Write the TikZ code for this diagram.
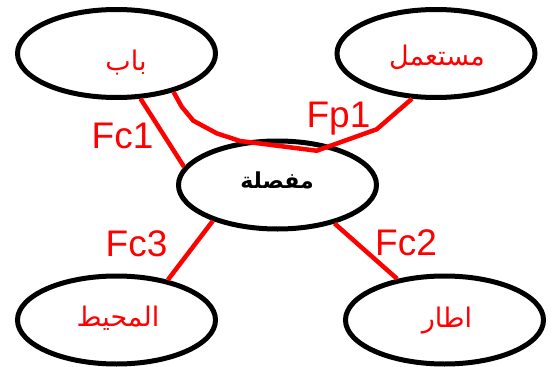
\documentclass[tikz,border=0pt]{standalone}
\usepackage{fontspec}
\setmainfont{Liberation Sans}
\newfontfamily\arabicfont[Script=Arabic]{DejaVu Sans}
\TeXXeTstate=1
\usetikzlibrary{shapes.geometric}
\definecolor{lred}{RGB}{255,0,0}
\tikzset{
  ell/.style={draw=black, line width=5pt, ellipse, minimum width=198pt, minimum height=88pt, inner sep=0pt},
  arlbl/.style={text=lred, font=\arabicfont\fontsize{27}{30}\selectfont, inner sep=0pt},
  fclbl/.style={text=lred, font=\fontsize{37}{40}\selectfont, inner sep=0pt, anchor=base},
  conn/.style={draw=lred, line width=4.5pt},
}
\begin{document}
\begin{tikzpicture}[x=1pt,y=-1pt]
\useasboundingbox (0,0) rectangle (552,367);
\node[ell] (bab) at (116.5,53.5) {};
\node[ell] (user) at (436,53.5) {};
\node[ell] (hinge) at (277.5,185) {};
\node[ell] (env) at (116.5,320) {};
\node[ell] (frame) at (444.5,320) {};
\node[arlbl] (babt) at (126,63) {\beginR باب\endR};
\node[arlbl] (usert) at (437,57) {\beginR مستعمل\endR};
\node[arlbl] (envt) at (118,318) {\beginR المحيط\endR};
\node[arlbl] (framet) at (447,321) {\beginR اطار\endR};
\node[inner sep=0pt, font=\arabicfont\bfseries\fontsize{22}{26}\selectfont] (hingt) at (277,180) {\beginR مفصلة\endR};
\draw[conn] (bab.-62) -- (hinge.169);
\draw[conn] (hinge.209) -- (env.38);
\draw[conn] (hinge.-34) -- (frame.139.5);
\draw[conn, line join=round] (bab.-34) -- (181.7,106.7) -- (193.3,120.7) -- (216.7,133.3) -- (240,141) -- (316.7,150.7) -- (376.7,129.3) -- (user.-118);
\node[fclbl] (fc1) at (122.5,148) {Fc1};
\node[fclbl] (fp1) at (338.5,127) {Fp1};
\node[fclbl] (fc3) at (136.5,256.7) {Fc3};
\node[fclbl] (fc2) at (406,255.7) {Fc2};
\end{tikzpicture}
\end{document}
